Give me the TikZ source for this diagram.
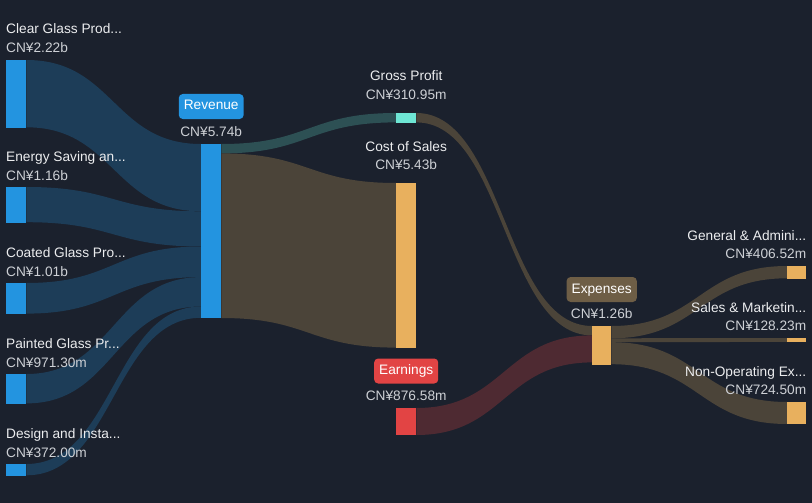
\documentclass[tikz,border=0pt]{standalone}
\usepackage{fontspec}
\setmainfont{Liberation Sans}
\usetikzlibrary{calc, positioning}

\definecolor{bgc}{RGB}{27,33,45}
\definecolor{blue}{RGB}{35,148,224}
\definecolor{blueflow}{RGB}{29,61,88}
\definecolor{teal}{RGB}{110,230,212}
\definecolor{tealflow}{RGB}{45,80,84}
\definecolor{gold}{RGB}{232,176,94}
\definecolor{brownflow}{RGB}{75,68,57}
\definecolor{red}{RGB}{226,68,68}
\definecolor{redflow}{RGB}{78,42,50}
\definecolor{expbadge}{RGB}{110,94,70}
\definecolor{lblc}{RGB}{236,237,239}
\definecolor{valc}{RGB}{205,208,213}

% band between two bars: from node, offset, to node, offset, width, colour
\newcommand{\flowband}[6]{%
	\path ($(#1.north east)+(0,#2)$) coordinate (fa)
	      ($(#3.north west)+(0,#4)$) coordinate (fb)
	      ($(fa)!.5!(fb)$) coordinate (fm);
	\fill[#6] (fa) .. controls (fa -| fm) and (fb -| fm) .. (fb)
	  -- ($(fb)+(0,#5)$) .. controls ($(fb -| fm)+(0,#5)$) and ($(fa -| fm)+(0,#5)$) .. ($(fa)+(0,#5)$) -- cycle;
}

\begin{document}
\begin{tikzpicture}[x=1pt,y=-1pt,
	bar/.style={rectangle,inner sep=0,minimum width=20pt,anchor=north west},
	lbl/.style={text=lblc,inner sep=0,font=\fontsize{13.7}{16}\selectfont},
	val/.style={text=valc,inner sep=0,font=\fontsize{13.7}{16}\selectfont},
	badge/.style={rounded corners=4pt,text=white,inner xsep=5pt,inner ysep=0,minimum height=25pt,text height=10pt,text depth=3pt,font=\fontsize{13.7}{16}\selectfont}]
	\useasboundingbox (0,0) rectangle (812,503);
	\fill[bgc] (0,0) rectangle (812,503);

	% bars
	\node[bar,minimum height=67.3pt] (clear)   at (6,60)  {};
	\node[bar,minimum height=35.2pt] (energy)  at (6,187) {};
	\node[bar,minimum height=30.6pt] (coated)  at (6,283) {};
	\node[bar,minimum height=29.4pt] (painted) at (6,374) {};
	\node[bar,minimum height=11.3pt] (design)  at (6,464) {};
	\node[bar,minimum height=174pt]  (revenue) at (201,144) {};
	\node[bar,minimum height=9.4pt]  (gross)   at (396,113) {};
	\node[bar,minimum height=164.6pt] (cos)    at (396,183) {};
	\node[bar,minimum height=27pt]    (earnings) at (396,408) {};
	\node[bar,minimum height=38.2pt,minimum width=19pt] (expenses) at (592,326) {};
	\node[bar,minimum height=12.3pt,minimum width=19pt] (ga)    at (787,266) {};
	\node[bar,minimum height=3.9pt,minimum width=19pt]  (sm)    at (787,338) {};
	\node[bar,minimum height=22pt,minimum width=19pt]   (nonop) at (787,402) {};

	% flows
	\flowband{clear}{0}{revenue}{0}{67.3}{blueflow}
	\flowband{energy}{0}{revenue}{67.3}{35.2}{blueflow}
	\flowband{coated}{0}{revenue}{102.5}{30.6}{blueflow}
	\flowband{painted}{0}{revenue}{133.1}{29.4}{blueflow}
	\flowband{design}{0}{revenue}{162.5}{11.3}{blueflow}
	\flowband{revenue}{0}{gross}{0}{9.4}{tealflow}
	\flowband{revenue}{9.4}{cos}{0}{164.6}{brownflow}
	\flowband{gross}{0}{expenses}{0}{9.4}{brownflow}
	\flowband{earnings}{0}{expenses}{9.4}{27}{redflow}
	\flowband{expenses}{0}{ga}{0}{12.3}{brownflow}
	\flowband{expenses}{12.3}{sm}{0}{3.9}{brownflow}
	\flowband{expenses}{16.2}{nonop}{0}{22}{brownflow}

	% bar fills over the bands
	\foreach \n/\c in {clear/blue,energy/blue,coated/blue,painted/blue,design/blue,revenue/blue,gross/teal,cos/gold,earnings/red,expenses/gold,ga/gold,sm/gold,nonop/gold}
		\fill[\c] (\n.north west) rectangle (\n.south east);

	% left labels
	\node[lbl,anchor=base west] (clearlbl)   at ($(clear.north west)+(0,-26)$)   {Clear Glass Prod...};
	\node[val,anchor=base west] (clearval)   at ($(clear.north west)+(0,-7)$)    {CN¥2.22b};
	\node[lbl,anchor=base west] (energylbl)  at ($(energy.north west)+(0,-26)$)  {Energy Saving an...};
	\node[val,anchor=base west] (energyval)  at ($(energy.north west)+(0,-7)$)   {CN¥1.16b};
	\node[lbl,anchor=base west] (coatedlbl)  at ($(coated.north west)+(0,-26)$)  {Coated Glass Pro...};
	\node[val,anchor=base west] (coatedval)  at ($(coated.north west)+(0,-7)$)   {CN¥1.01b};
	\node[lbl,anchor=base west] (paintedlbl) at ($(painted.north west)+(0,-26)$) {Painted Glass Pr...};
	\node[val,anchor=base west] (paintedval) at ($(painted.north west)+(0,-7)$)  {CN¥971.30m};
	\node[lbl,anchor=base west] (designlbl)  at ($(design.north west)+(0,-26)$)  {Design and Insta...};
	\node[val,anchor=base west] (designval)  at ($(design.north west)+(0,-7)$)   {CN¥372.00m};

	% middle labels
	\node[badge,fill=blue] (revenuelbl) at ($(revenue.north)+(0,-37.5)$) {Revenue};
	\node[val,anchor=base] (revenueval) at ($(revenue.north)+(0,-7.5)$) {CN¥5.74b};
	\node[lbl,anchor=base] (grosslbl) at ($(gross.north)+(0,-32.5)$) {Gross Profit};
	\node[val,anchor=base] (grossval) at ($(gross.north)+(0,-13.5)$) {CN¥310.95m};
	\node[lbl,anchor=base] (coslbl) at ($(cos.north)+(0,-32)$) {Cost of Sales};
	\node[val,anchor=base] (cosval) at ($(cos.north)+(0,-13.5)$) {CN¥5.43b};
	\node[badge,fill=red] (earningslbl) at ($(earnings.north)+(0,-37)$) {Earnings};
	\node[val,anchor=base] (earningsval) at ($(earnings.north)+(0,-8)$) {CN¥876.58m};
	\node[badge,fill=expbadge] (expenseslbl) at ($(expenses.north)+(0,-36.5)$) {Expenses};
	\node[val,anchor=base] (expensesval) at ($(expenses.north)+(0,-8)$) {CN¥1.26b};

	% right labels
	\node[lbl,anchor=base east] (galbl)    at ($(ga.north east)+(0,-26)$)    {General \& Admini...};
	\node[val,anchor=base east] (gaval)    at ($(ga.north east)+(0,-8)$)     {CN¥406.52m};
	\node[lbl,anchor=base east] (smlbl)    at ($(sm.north east)+(0,-26)$)    {Sales \& Marketin...};
	\node[val,anchor=base east] (smval)    at ($(sm.north east)+(0,-8)$)     {CN¥128.23m};
	\node[lbl,anchor=base east] (nonoplbl) at ($(nonop.north east)+(0,-26)$) {Non-Operating Ex...};
	\node[val,anchor=base east] (nonopval) at ($(nonop.north east)+(0,-8)$)  {CN¥724.50m};
\end{tikzpicture}
\end{document}
